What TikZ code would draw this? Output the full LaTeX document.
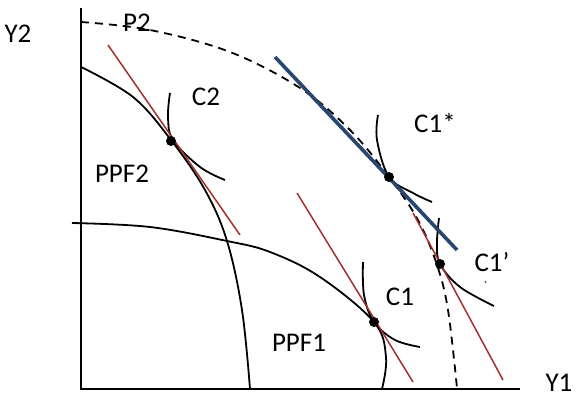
\documentclass[tikz,border=0pt]{standalone}
\usepackage{fontspec}
\setmainfont{Carlito}
\definecolor{tanred}{RGB}{160,50,45}
\definecolor{budblue}{RGB}{40,70,110}

\begin{document}
\begin{tikzpicture}[x=1pt,y=-1pt,
  axis/.style={draw=black,line width=2.4pt},
  curve/.style={draw=black,line width=1.8pt},
  tangent/.style={draw=tanred,line width=1.5pt},
  budget/.style={draw=budblue,line width=3.6pt},
  dot/.style={circle,fill=black,inner sep=0pt,minimum size=10pt},
  lbl/.style={font=\fontsize{27}{30}\selectfont,inner sep=0pt}]
\useasboundingbox (0,0) rectangle (579,398);
% axes:
\draw[axis] (81,8) -- (81,389) -- (520,389);
% frontiers:
\draw[curve,dash pattern=on 8pt off 6pt] plot[smooth,tension=0.6] coordinates
  {(81,22) (150,30) (230,52) (300,88) (350,130) (389,177) (418,220) (437,265) (448,310) (457,388)};
\draw[curve] plot[smooth,tension=0.6] coordinates
  {(81,67) (133,97) (171,140) (205,190) (227,241) (242,310) (250,389)};
\draw[curve] plot[smooth,tension=0.6] coordinates
  {(72,223) (150,227) (227,241) (270,252) (320,277) (374,322) (386,357) (382,389)};
% indifference curves:
\draw[curve] plot[smooth,tension=0.6] coordinates
  {(170,93) (168,117) (173,140) (200,167) (225,180)};
\draw[curve] plot[smooth,tension=0.6] coordinates
  {(363,262) (364,295) (374,322) (395,340) (420,347)};
\draw[curve] plot[smooth,tension=0.6] coordinates
  {(378,115) (377,140) (389,177) (413,193) (432,202)};
\draw[curve] plot[smooth,tension=0.6] coordinates
  {(439,218) (437,243) (440,264) (460,287) (494,306)};
% price lines:
\draw[tangent] (108,45) -- (240,235);
\draw[tangent] (297,193) -- (413,382);
\draw[tangent] (413,213) -- (503,380);
\draw[budget] (275,57) -- (457,250);
\draw[draw=budblue,line width=1pt] (485,281) -- (486,283);
% optima:
\node[dot] (c2) at (171,141) {};
\node[dot] (c1) at (374,322) {};
\node[dot] (c1s) at (389,177) {};
\node[dot] (c1p) at (440,264) {};
% labels:
\node[lbl] (y2) at (18,34) {Y2};
\node[lbl] (y1) at (559,383) {Y1};
\node[lbl] (p2) at (137,23) {P2};
\node[lbl] (lc2) at (206,97) {C2};
\node[lbl] (ppf2) at (122,174) {PPF2};
\node[lbl] (lc1s) at (435,123) {C1*};
\node[lbl] (lc1p) at (492,262) {C1’};
\node[lbl] (lc1) at (400,297) {C1};
\node[lbl] (ppf1) at (299,343) {PPF1};
\end{tikzpicture}
\end{document}
